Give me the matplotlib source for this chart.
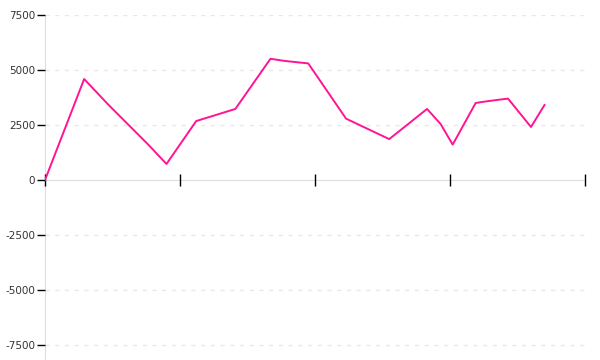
import matplotlib
matplotlib.use("Agg")
import matplotlib.pyplot as plt

# x positions (arbitrary time units, ticks every 100) and values
x_vals = [0, 29, 47, 76, 90, 112, 141, 167, 178, 195, 223, 255, 283, 293, 302, 319, 324, 335, 343, 360, 370]
y_vals = [0, 4590, 3420, 1640, 730, 2680, 3230, 5510, 5410, 5300, 2790, 1860, 3230, 2550, 1610, 3500, 3550, 3640, 3700, 2410, 3410]

y_ticks = [-7500, -5000, -2500, 0, 2500, 5000, 7500]
x_ticks = [0, 100, 200, 300, 400]

fig = plt.figure(figsize=(6, 3.6), dpi=100)
ax = fig.add_axes([0.075, 0.0, 0.9, 0.9583])

ax.plot(x_vals, y_vals, color="#ff1493", linewidth=1.4, zorder=3)

ax.set_xlim(0, 400)
ax.set_ylim(-8180, 7500)

# dotted horizontal grid
for t in y_ticks:
    if t != 0:
        ax.axhline(t, color="#e8e8e8", linewidth=1, linestyle=(0, (3, 4)), zorder=1)

ax.spines["top"].set_visible(False)
ax.spines["right"].set_visible(False)
ax.spines["left"].set_color("#dddddd")
ax.spines["bottom"].set_color("#dddddd")
ax.spines["bottom"].set_position(("data", 0))
ax.spines["left"].set_zorder(0.5)
ax.spines["bottom"].set_zorder(0.5)

ax.set_yticks(y_ticks)
ax.set_yticklabels([str(t) for t in y_ticks])
ax.set_xticks(x_ticks)
ax.set_xticklabels([])

ax.tick_params(axis="y", direction="out", length=6, width=1, color="black",
               labelsize=7.5, labelcolor="#333333", pad=1)
ax.tick_params(axis="x", direction="inout", length=9, width=1, color="black")
for tl in ax.xaxis.get_ticklines():
    tl.set_clip_on(False)

fig.savefig("out.png", dpi=100)
